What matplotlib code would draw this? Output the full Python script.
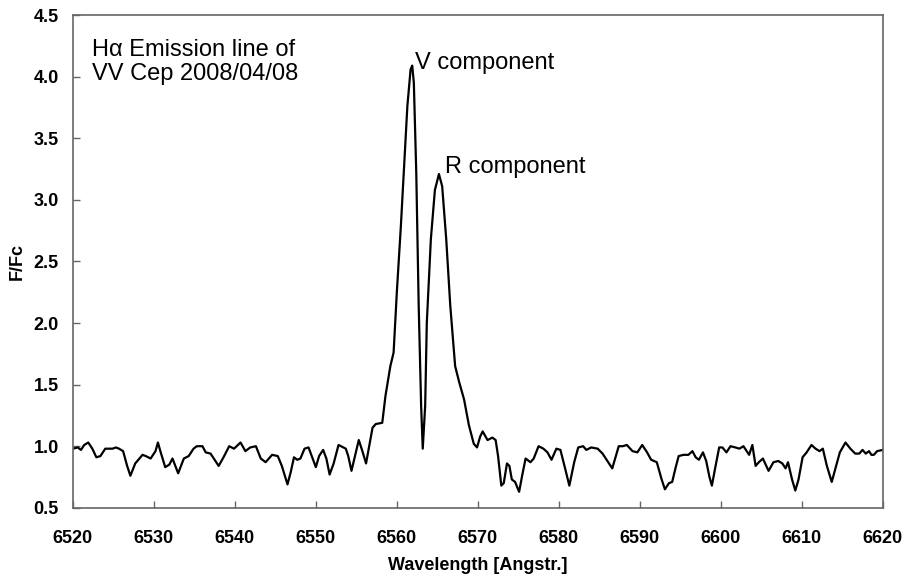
import matplotlib
matplotlib.use('Agg')
import matplotlib.pyplot as plt
import numpy as np

# H-alpha profile of VV Cep
wave = [6520.0, 6520.6, 6521.0, 6521.4, 6521.9, 6522.4, 6522.9, 6523.4, 6524.0, 6524.9,
        6525.3, 6525.7, 6526.2, 6526.7, 6527.1, 6527.7, 6528.6, 6529.0, 6529.6, 6530.2,
        6530.5, 6530.8, 6531.4, 6531.9, 6532.3, 6533.0, 6533.7, 6534.3, 6534.9, 6535.3,
        6536.0, 6536.4, 6537.0, 6537.4, 6538.0, 6538.6, 6539.3, 6539.9, 6540.7, 6541.3,
        6541.9, 6542.6, 6543.2, 6543.8, 6544.6, 6545.3, 6545.8, 6546.5, 6546.9, 6547.3,
        6547.7, 6548.1, 6548.6, 6549.1, 6550.0, 6550.4, 6550.9, 6551.3, 6551.7, 6552.2,
        6552.8, 6553.7, 6554.0, 6554.4, 6554.9, 6555.3, 6555.7, 6556.2, 6556.5, 6557.0,
        6557.4, 6558.2, 6558.6, 6559.2, 6559.6, 6560.0, 6560.5, 6560.9, 6561.3, 6561.7,
        6561.9, 6562.1, 6562.4, 6562.7, 6563.0, 6563.2, 6563.5, 6563.7, 6564.2, 6564.7,
        6565.2, 6565.6, 6566.1, 6566.6, 6567.2, 6567.7, 6568.3, 6568.9, 6569.5, 6569.9,
        6570.3, 6570.6, 6571.2, 6571.8, 6572.2, 6572.5, 6572.9, 6573.2, 6573.6, 6573.9,
        6574.2, 6574.6, 6575.1, 6575.5, 6575.9, 6576.5, 6576.9, 6577.5, 6578.1, 6578.6,
        6579.1, 6579.7, 6580.2, 6580.7, 6581.3, 6581.9, 6582.4, 6583.0, 6583.4, 6584.0,
        6584.8, 6585.4, 6586.1, 6586.6, 6587.0, 6587.4, 6587.9, 6588.4, 6589.1, 6589.7,
        6590.3, 6590.9, 6591.4, 6592.1, 6592.7, 6593.1, 6593.6, 6594.0, 6594.4, 6594.8,
        6595.4, 6596.0, 6596.5, 6596.9, 6597.3, 6597.8, 6598.2, 6598.6, 6598.9, 6599.3,
        6599.8, 6600.2, 6600.7, 6601.2, 6601.8, 6602.3, 6602.8, 6603.5, 6603.9, 6604.3,
        6604.7, 6605.2, 6605.9, 6606.5, 6607.1, 6607.6, 6608.0, 6608.3, 6608.8, 6609.2,
        6609.6, 6610.1, 6610.6, 6611.2, 6611.7, 6612.2, 6612.6, 6613.1, 6613.7, 6614.2,
        6614.7, 6615.4, 6616.0, 6616.6, 6617.1, 6617.5, 6617.9, 6618.3, 6618.6, 6618.9,
        6619.3, 6620.0]
flux = [0.98, 0.99, 0.97, 1.01, 1.03, 0.98, 0.91, 0.92, 0.98, 0.98,
        0.99, 0.98, 0.96, 0.84, 0.76, 0.86, 0.93, 0.92, 0.90, 0.96,
        1.03, 0.96, 0.83, 0.85, 0.90, 0.78, 0.90, 0.92, 0.98, 1.00,
        1.00, 0.95, 0.94, 0.90, 0.84, 0.91, 1.00, 0.98, 1.03, 0.96,
        0.99, 1.00, 0.90, 0.87, 0.93, 0.92, 0.84, 0.69, 0.79, 0.91,
        0.89, 0.90, 0.98, 0.99, 0.83, 0.92, 0.97, 0.90, 0.77, 0.86,
        1.01, 0.98, 0.92, 0.80, 0.94, 1.05, 0.97, 0.86, 0.97, 1.15,
        1.18, 1.19, 1.41, 1.65, 1.76, 2.25, 2.79, 3.27, 3.76, 4.06,
        4.09, 3.95, 3.22, 2.14, 1.33, 0.98, 1.33, 2.00, 2.68, 3.08,
        3.21, 3.11, 2.68, 2.14, 1.65, 1.52, 1.38, 1.17, 1.02, 0.99,
        1.08, 1.12, 1.05, 1.07, 1.05, 0.92, 0.68, 0.70, 0.86, 0.84,
        0.73, 0.71, 0.63, 0.77, 0.90, 0.87, 0.90, 1.00, 0.98, 0.95,
        0.89, 0.98, 0.97, 0.84, 0.68, 0.87, 0.99, 1.00, 0.97, 0.99,
        0.98, 0.94, 0.87, 0.82, 0.91, 1.00, 1.00, 1.01, 0.96, 0.95,
        1.01, 0.95, 0.89, 0.87, 0.73, 0.65, 0.70, 0.71, 0.82, 0.92,
        0.93, 0.93, 0.96, 0.91, 0.89, 0.95, 0.88, 0.75, 0.68, 0.82,
        0.99, 0.99, 0.95, 1.00, 0.99, 0.98, 1.00, 0.93, 1.01, 0.84,
        0.87, 0.90, 0.80, 0.87, 0.88, 0.86, 0.82, 0.87, 0.73, 0.64,
        0.73, 0.91, 0.95, 1.01, 0.98, 0.96, 0.98, 0.84, 0.71, 0.83,
        0.95, 1.03, 0.98, 0.94, 0.94, 0.97, 0.94, 0.96, 0.93, 0.93,
        0.96, 0.97]

xticks = np.arange(6520, 6621, 10)
yticks = np.arange(0.5, 4.51, 0.5)

bold_font = ['Liberation Sans Narrow', 'Liberation Sans', 'DejaVu Sans']
text_font = ['Liberation Sans', 'DejaVu Sans']

fig = plt.figure(figsize=(9.11, 5.81), dpi=100)
ax = fig.add_axes([0.080, 0.126, 0.889, 0.848])

ax.plot(wave, flux, color='black', linewidth=1.6)

ax.set_xlim(6520, 6620)
ax.set_ylim(0.5, 4.5)
ax.set_xticks(xticks)
ax.set_yticks(yticks)
ax.set_yticklabels(['%.1f' % v for v in yticks])
ax.tick_params(direction='in', length=5, color='#666666', width=1, pad=10)
ax.tick_params(axis='x', pad=16)
for lab in ax.get_xticklabels() + ax.get_yticklabels():
    lab.set_family(bold_font)
    lab.set_fontweight('bold')
    lab.set_fontsize(13)
for sp in ax.spines.values():
    sp.set_color('#666666')
    sp.set_linewidth(1.2)

ax.set_xlabel('Wavelength [Angstr.]', family=bold_font, fontweight='bold', fontsize=13, labelpad=7)
ax.set_ylabel('F/Fc', family=bold_font, fontweight='bold', fontsize=13, labelpad=6)

ax.text(6522.3, 4.31, 'H\u03b1 Emission line of\nVV Cep 2008/04/08', family=text_font,
        fontsize=17, va='top', ha='left', linespacing=1.15)
ax.text(6562.3, 4.06, 'V component', family=text_font, fontsize=17, va='baseline', ha='left')
ax.text(6565.9, 3.22, 'R component', family=text_font, fontsize=17, va='baseline', ha='left')

plt.savefig('out.png', dpi=100)
